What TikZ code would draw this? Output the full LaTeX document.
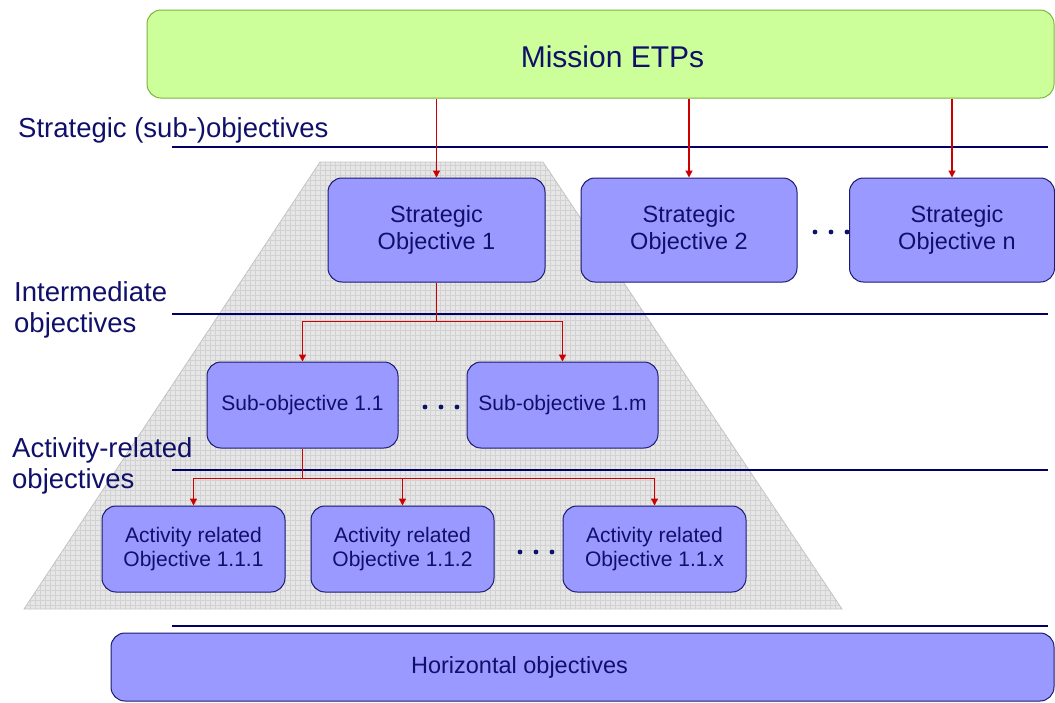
\documentclass[tikz,border=0pt]{standalone}
\usepackage{fontspec}
\setmainfont{Liberation Sans}
\usetikzlibrary{arrows.meta}
\definecolor{navy}{HTML}{10106A}
\definecolor{boxfill}{HTML}{9999FF}
\definecolor{boxborder}{HTML}{1A1A70}
\definecolor{greenfill}{HTML}{CCFF99}
\definecolor{greenborder}{HTML}{7FB33F}
\definecolor{arrowred}{HTML}{CC0000}
\definecolor{sepline}{HTML}{000066}
\definecolor{trapfill}{HTML}{E6E6E6}
\definecolor{trapgrid}{HTML}{D2D2D2}
\definecolor{trapedge}{HTML}{C4C4C4}
\begin{document}
\begin{tikzpicture}[x=1pt,y=-1pt,
  objbox/.style={draw=boxborder, fill=boxfill, rounded corners=14pt, line width=1pt,
    align=center, inner sep=0pt, text=navy},
  missionbox/.style={draw=greenborder, fill=greenfill, rounded corners=14pt, line width=1pt,
    align=center, inner sep=0pt, text=navy},
  levellabel/.style={text=navy, align=left, inner sep=0pt, font=\fontsize{27.5}{31}\selectfont},
  sepl/.style={draw=sepline, line width=1.1pt},
  redline/.style={draw=arrowred, line width=1.3pt},
  redarrow/.style={redline, -{Triangle[width=7pt,length=7pt]}},
  bigtext/.style={font=\fontsize{23.5}{27}\selectfont},
  midtext/.style={font=\fontsize{21}{24}\selectfont},
  dotc/.style={fill=navy}
]
\useasboundingbox (0,0) rectangle (1055,702);

% pyramid (trapezoid) with grid texture
\fill[trapfill] (320,162) -- (543,162) -- (842,609) -- (24,609) -- cycle;
\begin{scope}
  \clip (320,162) -- (543,162) -- (842,609) -- (24,609) -- cycle;
  \foreach \gx in {20,25,...,845} \draw[trapgrid, line width=0.4pt] (\gx,160) -- (\gx,612);
  \foreach \gy in {160,165,...,612} \draw[trapgrid, line width=0.4pt] (20,\gy) -- (845,\gy);
\end{scope}
\draw[trapedge, line width=0.8pt] (320,162) -- (543,162) -- (842,609) -- (24,609) -- cycle;

% separator lines
\draw[sepl] (172,147) -- (1048,147);
\draw[sepl] (172,314) -- (1048,314);
\draw[sepl] (172,470) -- (1048,470);
\draw[sepl] (172,626) -- (1048,626);

% level labels
\node[levellabel, anchor=base west] (lstrat) at (18,137) {Strategic (sub-)objectives};
\node[levellabel, anchor=west] (linter) at (14,309.5) {Intermediate\\objectives};
\node[levellabel, anchor=west] (lact) at (12,465.5) {Activity-related\\objectives};

% mission
\node[missionbox, minimum width=907pt, minimum height=88pt, font=\fontsize{30}{34}\selectfont]
  (mission) at (600.5,54) {\hspace*{24pt}\raisebox{-13pt}[0pt][0pt]{Mission ETPs}};

% strategic objectives
\node[objbox, bigtext, minimum width=217pt, minimum height=104pt] (so1) at (436.5,230) {Strategic\\Objective 1};
\node[objbox, bigtext, minimum width=216pt, minimum height=104pt] (so2) at (689,230) {Strategic\\Objective 2};
\node[objbox, bigtext, minimum width=205pt, minimum height=104pt] (son) at (952,230) {\hspace*{10pt}Strategic\\\hspace*{10pt}Objective n};

% sub objectives
\node[objbox, midtext, minimum width=191pt, minimum height=86pt] (sub1) at (302.5,405) {Sub-objective 1.1};
\node[objbox, midtext, minimum width=191pt, minimum height=86pt] (subm) at (562.5,405) {Sub-objective 1.m};

% activity related
\node[objbox, midtext, minimum width=183pt, minimum height=86pt] (a1) at (193.5,549) {Activity related\\Objective 1.1.1};
\node[objbox, midtext, minimum width=183pt, minimum height=86pt] (a2) at (402.5,549) {Activity related\\Objective 1.1.2};
\node[objbox, midtext, minimum width=183pt, minimum height=86pt] (ax) at (654.5,549) {Activity related\\Objective 1.1.x};

% horizontal
\node[objbox, bigtext, minimum width=943pt, minimum height=68pt] (horiz) at (582.5,667) {Horizontal objectives\hspace*{126pt}};

% dots
\foreach \x in {815,831,847} \fill[dotc] (\x,232) circle (2.4);
\foreach \x in {425,441,457} \fill[dotc] (\x,407) circle (2.4);
\foreach \x in {520,536,552} \fill[dotc] (\x,552) circle (2.4);

% arrows
\draw[redarrow] (mission.south -| so1.north) -- (so1.north);
\draw[redarrow] (mission.south -| so2.north) -- (so2.north);
\draw[redarrow] (mission.south -| son.north) -- (son.north);

\coordinate (j1) at ([yshift=-39pt]so1.south);
\draw[redline] (so1.south) -- (j1);
\draw[redarrow] (j1) -| (sub1.north);
\draw[redarrow] (j1) -| (subm.north);

\coordinate (j2) at ([yshift=-30pt]sub1.south);
\draw[redline] (sub1.south) -- (j2);
\draw[redarrow] (j2) -| (a1.north);
\draw[redarrow] (j2) -| (a2.north);
\draw[redarrow] (j2) -| (ax.north);
\end{tikzpicture}
\end{document}
